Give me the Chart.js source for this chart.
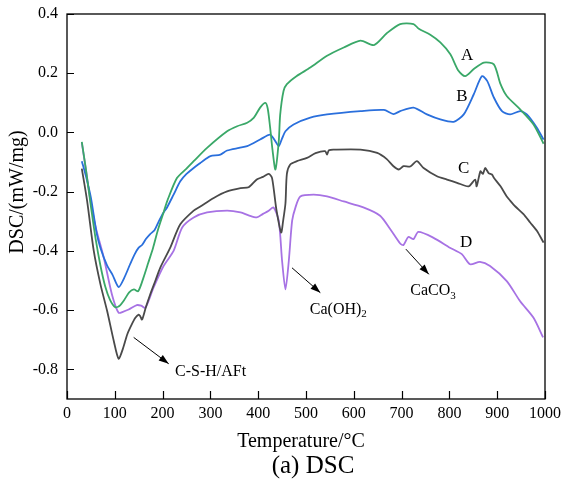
<!DOCTYPE html>
<html><head><meta charset="utf-8">
<script src="https://cdn.jsdelivr.net/npm/chart.js@4.4.1/dist/chart.umd.min.js"></script>
<style>html,body{margin:0;padding:0;background:#fff}#wrap{width:562px;height:489px;position:relative}</style>
</head><body><div id="wrap"><canvas id="c" width="562" height="489"></canvas></div>
<script>
// ---- data (temperature °C, DSC mW/mg) ----
const tempA = [31,40,50,60,70,80,90,101,110,120,130,140,149,160,170,180,190,202,210,230,250,265,293,335,356,377,391,404,415,420,425,430,436,443,446,453,460,480,509,544,579,614,642,669,697,725,736,760,781,802,819,833,851,872,893,907,920,948,976,997];
const dscA  = [-0.032,-0.13,-0.25,-0.36,-0.45,-0.52,-0.565,-0.59,-0.585,-0.565,-0.54,-0.53,-0.536,-0.49,-0.44,-0.39,-0.33,-0.27,-0.23,-0.154,-0.122,-0.097,-0.052,0.004,0.021,0.033,0.05,0.084,0.10,0.08,0.016,-0.06,-0.125,-0.03,0.06,0.14,0.163,0.19,0.219,0.259,0.287,0.31,0.295,0.335,0.366,0.366,0.35,0.33,0.304,0.264,0.208,0.19,0.214,0.236,0.23,0.163,0.123,0.078,0.027,-0.038];

const tempB = [31,40,50,62,70,84,95,108,120,132,142,150,157,165,174,183,192,202,209,223,237,250,265,279,290,300,321,335,360,377,404,425,436,443,450,457,474,509,544,614,663,683,697,725,753,781,809,830,851,868,879,893,910,927,948,962,983,997];
const dscB  = [-0.097,-0.15,-0.22,-0.34,-0.39,-0.45,-0.48,-0.522,-0.49,-0.445,-0.41,-0.389,-0.38,-0.36,-0.343,-0.33,-0.3,-0.27,-0.254,-0.21,-0.165,-0.14,-0.12,-0.103,-0.09,-0.08,-0.075,-0.061,-0.052,-0.046,-0.024,-0.007,-0.03,-0.046,-0.02,0.004,0.027,0.05,0.061,0.072,0.076,0.062,0.072,0.084,0.061,0.044,0.036,0.061,0.129,0.19,0.174,0.118,0.072,0.061,0.072,0.061,0.016,-0.024];

const tempC = [31,42,56,70,84,98,108,117,126,135,143,150,153,157,165,174,185,195,216,237,265,279,307,335,363,380,397,410,422,429,438,448,452,457,460,467,481,502,520,540,544,548,558,614,649,669,683,694,704,718,732,746,774,795,816,840,854,857,865,870,875,882,889,893,907,920,927,938,955,969,983,997];
const dscC  = [-0.122,-0.23,-0.4,-0.513,-0.603,-0.705,-0.764,-0.73,-0.682,-0.65,-0.626,-0.615,-0.62,-0.632,-0.59,-0.547,-0.5,-0.457,-0.389,-0.31,-0.264,-0.25,-0.221,-0.199,-0.188,-0.185,-0.159,-0.15,-0.14,-0.154,-0.26,-0.338,-0.3,-0.24,-0.14,-0.108,-0.097,-0.086,-0.07,-0.063,-0.075,-0.06,-0.058,-0.058,-0.069,-0.09,-0.114,-0.125,-0.114,-0.115,-0.097,-0.12,-0.148,-0.159,-0.17,-0.182,-0.159,-0.182,-0.131,-0.14,-0.12,-0.137,-0.142,-0.153,-0.182,-0.216,-0.23,-0.25,-0.276,-0.304,-0.332,-0.372];

const tempD = [31,40,49,60,77,94,108,118,129,146,155,164,181,202,223,241,265,293,335,363,380,397,410,422,432,443,450,457,464,471,478,488,516,544,579,620,655,676,697,704,714,725,735,766,801,826,843,864,885,920,948,976,996];
const dscD  = [-0.035,-0.13,-0.23,-0.32,-0.423,-0.547,-0.609,-0.605,-0.598,-0.583,-0.585,-0.592,-0.524,-0.451,-0.4,-0.321,-0.287,-0.27,-0.264,-0.27,-0.28,-0.287,-0.275,-0.264,-0.253,-0.298,-0.434,-0.53,-0.434,-0.298,-0.253,-0.216,-0.21,-0.216,-0.233,-0.253,-0.281,-0.326,-0.375,-0.38,-0.353,-0.36,-0.336,-0.355,-0.389,-0.411,-0.445,-0.437,-0.451,-0.502,-0.57,-0.626,-0.692];

const seriesNames = ['A','B','C','D'];
const seriesColors = ['#3aa868','#2a6fdc','#4a4a4a','#a772e4'];
const xTicks = [0,100,200,300,400,500,600,700,800,900,1000];
const yTicks = [-0.8,-0.6,-0.4,-0.2,0.0,0.2,0.4];

// annotation anchors in data units
const labelPos = [[837,0.259],[826,0.12],[830,-0.122],[835,-0.372]];
const peakNotes = [
  {text:'C-S-H/AFt', sub:'', at:[226,-0.809], from:[139.5,-0.692], to:[212.8,-0.781]},
  {text:'Ca(OH)', sub:'2', at:[508,-0.598], from:[470.7,-0.457], to:[530,-0.541]},
  {text:'CaCO', sub:'3', at:[718,-0.536], from:[709,-0.394], to:[757,-0.479]}
];

const FONT = '"Liberation Serif","Times New Roman",serif';
const temps = [tempA,tempB,tempC,tempD];
const vals = [dscA,dscB,dscC,dscD];

const datasets = seriesNames.map((n,i)=>({
  label:n,
  data: temps[i].map((t,j)=>({x:t,y:vals[i][j]})),
  borderColor: seriesColors[i],
  borderWidth: 1.8,
  pointRadius: 0,
  tension: 0.25,
  fill:false
}));

const deco = {
  id:'deco',
  afterDraw(chart){
    const ctx = chart.ctx, a = chart.chartArea, xs = chart.scales.x, ys = chart.scales.y;
    ctx.save();
    ctx.strokeStyle = '#000'; ctx.lineWidth = 1.3;
    ctx.strokeRect(a.left, a.top, a.right-a.left, a.bottom-a.top);
    ctx.lineWidth = 1.2;
    ctx.beginPath();
    xTicks.forEach(v=>{const p=Math.round(xs.getPixelForValue(v))+0.5; ctx.moveTo(p,a.bottom); ctx.lineTo(p,a.bottom-8);});
    yTicks.forEach(v=>{const p=Math.round(ys.getPixelForValue(v))+0.5; ctx.moveTo(a.left,p); ctx.lineTo(a.left+7,p);});
    ctx.stroke();
    // series letters
    ctx.fillStyle = '#000';
    ctx.font = '17px '+FONT; ctx.textAlign='center'; ctx.textBaseline='middle';
    seriesNames.forEach((n,i)=>{ctx.fillText(n, xs.getPixelForValue(labelPos[i][0]), ys.getPixelForValue(labelPos[i][1]));});
    // peak notes with arrows
    peakNotes.forEach(p=>{
      const x0=xs.getPixelForValue(p.from[0]), y0=ys.getPixelForValue(p.from[1]);
      const x1=xs.getPixelForValue(p.to[0]), y1=ys.getPixelForValue(p.to[1]);
      ctx.lineWidth=1; ctx.beginPath(); ctx.moveTo(x0,y0); ctx.lineTo(x1,y1); ctx.stroke();
      const ang=Math.atan2(y1-y0,x1-x0), L=10, W=3.5;
      ctx.beginPath(); ctx.moveTo(x1,y1);
      ctx.lineTo(x1-L*Math.cos(ang)+W*Math.sin(ang), y1-L*Math.sin(ang)-W*Math.cos(ang));
      ctx.lineTo(x1-L*Math.cos(ang)-W*Math.sin(ang), y1-L*Math.sin(ang)+W*Math.cos(ang));
      ctx.closePath(); ctx.fill();
      ctx.font='16px '+FONT; ctx.textAlign='left'; ctx.textBaseline='middle';
      const tx=xs.getPixelForValue(p.at[0]), ty=ys.getPixelForValue(p.at[1]);
      ctx.fillText(p.text, tx, ty);
      if(p.sub){const w=ctx.measureText(p.text).width; ctx.font='11px '+FONT; ctx.fillText(p.sub, tx+w, ty+5);}
    });
    // axis titles and caption
    ctx.font='20px '+FONT; ctx.textAlign='center'; ctx.textBaseline='middle';
    ctx.fillText('Temperature/°C', 301, 442);
    ctx.save(); ctx.translate(18,192); ctx.rotate(-Math.PI/2); ctx.fillText('DSC/(mW/mg)',0,0); ctx.restore();
    ctx.font='25px '+FONT;
    ctx.fillText('(a) DSC', 313, 466);
    ctx.restore();
  }
};

new Chart(document.getElementById('c'), {
  type:'line',
  data:{datasets},
  plugins:[deco],
  options:{
    responsive:false, animation:false, devicePixelRatio:1,
    layout:{padding:{top:14,right:17,left:0,bottom:0}},
    plugins:{legend:{display:false}, tooltip:{enabled:false}},
    scales:{
      x:{type:'linear', min:0, max:1000,
        afterBuildTicks:s=>{s.ticks = xTicks.map(v=>({value:v}));},
        afterFit:s=>{s.height=90; s.paddingLeft=0; s.paddingRight=0;},
        grid:{display:false, drawTicks:false}, border:{display:false},
        ticks:{padding:5, color:'#000', font:{family:FONT,size:16}, maxRotation:0, autoSkip:false, callback:v=>String(v)}},
      y:{type:'linear', min:-0.9, max:0.4,
        afterBuildTicks:s=>{s.ticks = yTicks.map(v=>({value:v}));},
        afterFit:s=>{s.width=67; s.paddingTop=0; s.paddingBottom=0;},
        grid:{display:false, drawTicks:false}, border:{display:false},
        ticks:{padding:9, color:'#000', font:{family:FONT,size:16}, autoSkip:false, callback:v=>Number(v).toFixed(1)}}
    }
  }
});
</script></body></html>
